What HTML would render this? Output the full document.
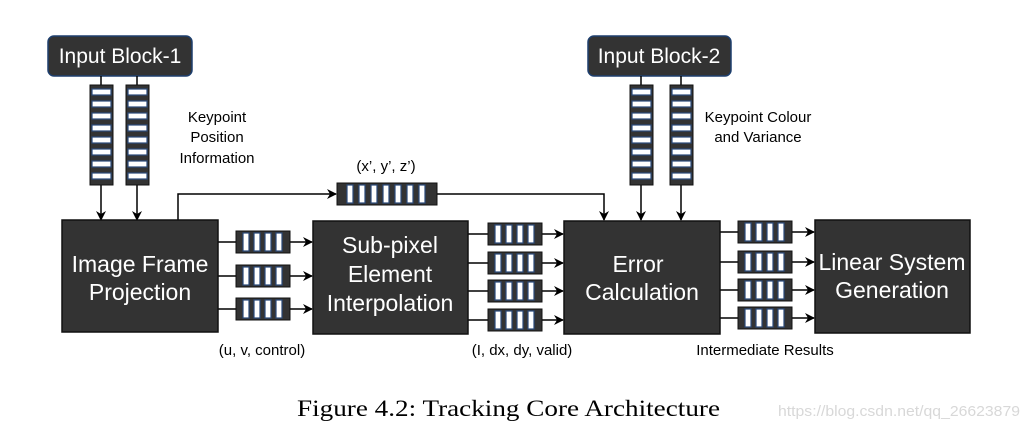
<!DOCTYPE html>
<html><head><meta charset="utf-8"><style>
html,body{margin:0;padding:0;background:#fff;}
svg{display:block;}
</style></head><body>
<svg width="1029" height="432" viewBox="0 0 1029 432" xmlns="http://www.w3.org/2000/svg" font-family="Liberation Sans, sans-serif">
<defs>
<marker id="ar" markerWidth="10" markerHeight="10" refX="9" refY="5" orient="auto" markerUnits="userSpaceOnUse">
<path d="M0,0 L10,5 L0,10 L3,5 z" fill="#000"/></marker>
<g id="vq">
<rect x="0" y="0" width="23" height="100" fill="#333" stroke="#111" stroke-width="1"/>
<g fill="#fff" stroke="#2a4a7a" stroke-width="1.2">
<rect x="2" y="4" width="19" height="6"/><rect x="2" y="16" width="19" height="6"/>
<rect x="2" y="28" width="19" height="6"/><rect x="2" y="40" width="19" height="6"/>
<rect x="2" y="52" width="19" height="6"/><rect x="2" y="64" width="19" height="6"/>
<rect x="2" y="76" width="19" height="6"/><rect x="2" y="88" width="19" height="6"/>
</g></g>
<g id="hq">
<rect x="0" y="0" width="54" height="22" fill="#333" stroke="#111" stroke-width="1"/>
<g fill="#fff" stroke="#2a4a7a" stroke-width="1.2">
<rect x="7" y="2" width="6" height="18"/><rect x="18" y="2" width="6" height="18"/>
<rect x="29" y="2" width="6" height="18"/><rect x="40" y="2" width="6" height="18"/>
</g></g>
<g id="tq">
<rect x="0" y="0" width="100" height="22" fill="#333" stroke="#111" stroke-width="1"/>
<g fill="#fff" stroke="#2a4a7a" stroke-width="1.2">
<rect x="10" y="2" width="6" height="18"/><rect x="22" y="2" width="6" height="18"/>
<rect x="34" y="2" width="6" height="18"/><rect x="46" y="2" width="6" height="18"/>
<rect x="58" y="2" width="6" height="18"/><rect x="70" y="2" width="6" height="18"/>
<rect x="82" y="2" width="6" height="18"/>
</g></g>
</defs>

<rect x="48" y="36" width="144" height="40" rx="6" fill="#333" stroke="#1e3f6e" stroke-width="1.5"/>
<text x="120" y="63" font-size="21" fill="#fff" text-anchor="middle">Input Block-1</text>
<rect x="588" y="36" width="143" height="40" rx="6" fill="#333" stroke="#1e3f6e" stroke-width="1.5"/>
<text x="659" y="63" font-size="21" fill="#fff" text-anchor="middle">Input Block-2</text>

<g stroke="#000" stroke-width="1.5" fill="none">
<line x1="101" y1="76" x2="101" y2="85"/><line x1="137" y1="76" x2="137" y2="85"/>
<line x1="641" y1="76" x2="641" y2="85"/><line x1="681" y1="76" x2="681" y2="85"/>
<line x1="101" y1="185" x2="101" y2="220" marker-end="url(#ar)"/>
<line x1="137" y1="185" x2="137" y2="220" marker-end="url(#ar)"/>
<line x1="641" y1="185" x2="641" y2="220" marker-end="url(#ar)"/>
<line x1="681" y1="185" x2="681" y2="220" marker-end="url(#ar)"/>
<polyline points="178,220 178,194 336,194" marker-end="url(#ar)"/>
<polyline points="437,194 604,194 604,220" marker-end="url(#ar)"/>
<line x1="218" y1="242" x2="236" y2="242"/><line x1="289" y1="242" x2="312" y2="242" marker-end="url(#ar)"/>
<line x1="218" y1="276" x2="236" y2="276"/><line x1="289" y1="276" x2="312" y2="276" marker-end="url(#ar)"/>
<line x1="218" y1="309" x2="236" y2="309"/><line x1="289" y1="309" x2="312" y2="309" marker-end="url(#ar)"/>
<line x1="468" y1="234" x2="488" y2="234"/><line x1="541" y1="234" x2="563" y2="234" marker-end="url(#ar)"/>
<line x1="468" y1="263" x2="488" y2="263"/><line x1="541" y1="263" x2="563" y2="263" marker-end="url(#ar)"/>
<line x1="468" y1="291" x2="488" y2="291"/><line x1="541" y1="291" x2="563" y2="291" marker-end="url(#ar)"/>
<line x1="468" y1="320" x2="488" y2="320"/><line x1="541" y1="320" x2="563" y2="320" marker-end="url(#ar)"/>
<line x1="720" y1="232" x2="738" y2="232"/><line x1="792" y1="232" x2="814" y2="232" marker-end="url(#ar)"/>
<line x1="720" y1="262" x2="738" y2="262"/><line x1="792" y1="262" x2="814" y2="262" marker-end="url(#ar)"/>
<line x1="720" y1="290" x2="738" y2="290"/><line x1="792" y1="290" x2="814" y2="290" marker-end="url(#ar)"/>
<line x1="720" y1="318" x2="738" y2="318"/><line x1="792" y1="318" x2="814" y2="318" marker-end="url(#ar)"/>
</g>

<use href="#vq" x="90" y="85"/><use href="#vq" x="126" y="85"/>
<use href="#vq" x="630" y="85"/><use href="#vq" x="670" y="85"/>
<use href="#tq" x="337" y="183"/>
<use href="#hq" x="236" y="231"/><use href="#hq" x="236" y="265"/><use href="#hq" x="236" y="298"/>
<use href="#hq" x="488" y="223"/><use href="#hq" x="488" y="252"/><use href="#hq" x="488" y="280"/><use href="#hq" x="488" y="309"/>
<use href="#hq" x="738" y="221"/><use href="#hq" x="738" y="251"/><use href="#hq" x="738" y="279"/><use href="#hq" x="738" y="307"/>

<g fill="#333" stroke="#111" stroke-width="1.5">
<rect x="62" y="220" width="156" height="112"/>
<rect x="313" y="221" width="155" height="113"/>
<rect x="564" y="221" width="156" height="113"/>
<rect x="815" y="220" width="155" height="113"/>
</g>
<g fill="#fff" font-size="23" text-anchor="middle">
<text x="140" y="272">Image Frame</text><text x="140" y="300">Projection</text>
<text x="390" y="253">Sub-pixel</text><text x="390" y="282">Element</text><text x="390" y="311">Interpolation</text>
<text x="638" y="272">Error</text><text x="642" y="300">Calculation</text>
<text x="892" y="270">Linear System</text><text x="892" y="298">Generation</text>
</g>

<g font-size="15" fill="#000" text-anchor="middle">
<text x="217" y="122">Keypoint</text><text x="217" y="142">Position</text><text x="217" y="163">Information</text>
<text x="758" y="122">Keypoint Colour</text><text x="758" y="142">and Variance</text>
<text x="386" y="171">(x’, y’, z’)</text>
<text x="262" y="355">(u, v, control)</text>
<text x="522" y="355">(I, dx, dy, valid)</text>
<text x="765" y="355">Intermediate Results</text>
</g>

<text x="297" y="416" font-family="Liberation Serif, serif" font-size="23" fill="#000" textLength="423" lengthAdjust="spacingAndGlyphs">Figure 4.2: Tracking Core Architecture</text>
<text x="778" y="416" font-size="15" fill="#d8d8d8" textLength="242" lengthAdjust="spacingAndGlyphs">https://blog.csdn.net/qq_26623879</text>
</svg>
</body></html>
